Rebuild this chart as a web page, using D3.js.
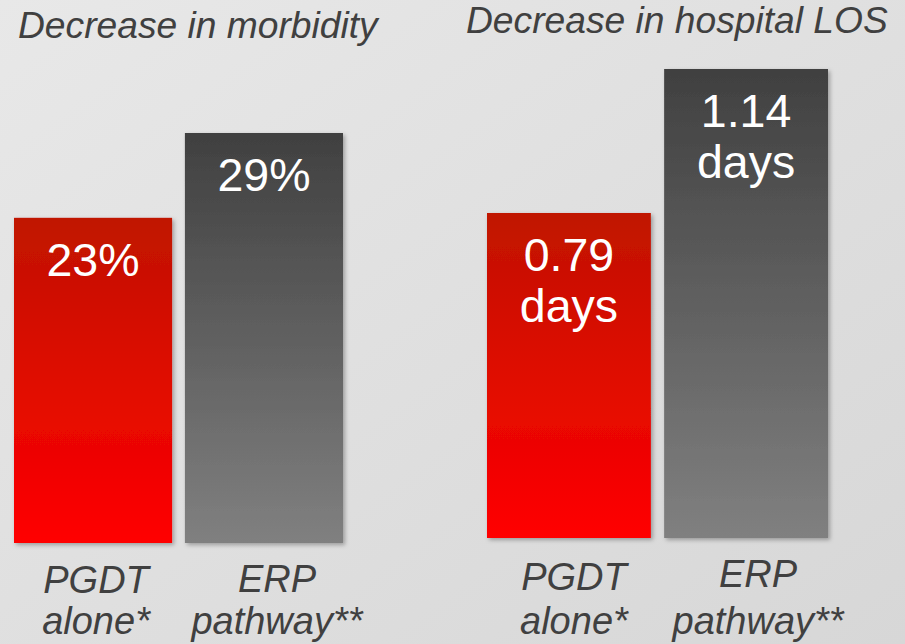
<!DOCTYPE html>
<html>
<head>
<meta charset="utf-8">
<script src="https://cdn.jsdelivr.net/npm/d3@7"></script>
<style>
html,body{margin:0;padding:0;background:#e0e0e0;}
svg{display:block;}
text{font-family:"Liberation Sans",Arial,sans-serif;}
</style>
</head>
<body>
<svg id="chart" width="905" height="644"></svg>
<script>
// ---- data ----
const categories = ["PGDT alone*", "ERP pathway**"];
const categoryLines = [["PGDT", "alone*"], ["ERP", "pathway**"]];
const panelTitles = ["Decrease in morbidity", "Decrease in hospital LOS"];
const morbidityValues = [23, 29];
const morbidityLabels = [["23%"], ["29%"]];
const losValues = [0.79, 1.14];
const losLabels = [["0.79", "days"], ["1.14", "days"]];

const svg = d3.select("#chart");
const W = 905, H = 644;
const defs = svg.append("defs");

// background gradient
const bg = defs.append("linearGradient").attr("id", "bg")
  .attr("x1", "0").attr("y1", "0").attr("x2", "1").attr("y2", "1");
bg.append("stop").attr("offset", "0").attr("stop-color", "#e8e8e8");
bg.append("stop").attr("offset", "1").attr("stop-color", "#d7d7d7");
svg.append("rect").attr("width", W).attr("height", H).attr("fill", "url(#bg)");

// bar gradients
const gRed = defs.append("linearGradient").attr("id", "gRed")
  .attr("x1", "0").attr("y1", "0").attr("x2", "0").attr("y2", "1");
gRed.append("stop").attr("offset", "0").attr("stop-color", "#c01400");
gRed.append("stop").attr("offset", "1").attr("stop-color", "#ff0000");
const gGray = defs.append("linearGradient").attr("id", "gGray")
  .attr("x1", "0").attr("y1", "0").attr("x2", "0").attr("y2", "1");
gGray.append("stop").attr("offset", "0").attr("stop-color", "#404040");
gGray.append("stop").attr("offset", "1").attr("stop-color", "#808080");
const fills = ["url(#gRed)", "url(#gGray)"];

const shadow = defs.append("filter").attr("id", "shadow")
  .attr("x", "-10%").attr("y", "-10%").attr("width", "130%").attr("height", "130%");
shadow.append("feDropShadow").attr("dx", 2).attr("dy", 2)
  .attr("stdDeviation", 2).attr("flood-color", "#000").attr("flood-opacity", 0.3);

const panels = [
  { title: panelTitles[0], values: morbidityValues, labels: morbidityLabels,
    xr: [14, 343], yDomain: [0, 30], yRange: [543, 543 - 30 * (410 / 29)],
    titleX: 18, titleY: 38, catBase: [593, 592], labelShift: [3, 13] },
  { title: panelTitles[1], values: losValues, labels: losLabels,
    xr: [487, 828], yDomain: [0, 1.2], yRange: [538, 538 - 1.2 * (469 / 1.14)],
    titleX: 466, titleY: 33, catBase: [590, 587], labelShift: [5, 12] }
];

panels.forEach(p => {
  const x = d3.scaleBand().domain(categories).range(p.xr).paddingInner(0.075).paddingOuter(0);
  const y = d3.scaleLinear().domain(p.yDomain).range(p.yRange);
  const g = svg.append("g");

  g.append("text").attr("x", p.titleX).attr("y", p.titleY)
    .attr("font-size", 37.2).attr("font-style", "italic").attr("fill", "#404040")
    .text(p.title);

  g.selectAll("rect.bar").data(p.values).join("rect").attr("class", "bar")
    .attr("x", (d, i) => x(categories[i]))
    .attr("y", d => y(d))
    .attr("width", x.bandwidth())
    .attr("height", d => y(0) - y(d))
    .attr("fill", (d, i) => fills[i])
    .attr("filter", "url(#shadow)");

  // value labels
  p.values.forEach((v, i) => {
    const t = g.append("text")
      .attr("x", x(categories[i]) + x.bandwidth() / 2)
      .attr("y", y(v) + 58)
      .attr("text-anchor", "middle").attr("font-size", 46.5).attr("fill", "#fff");
    p.labels[i].forEach((line, j) => {
      t.append("tspan").attr("x", x(categories[i]) + x.bandwidth() / 2)
        .attr("dy", j === 0 ? 0 : 51).text(line);
    });
  });

  // category labels
  categoryLines.forEach((lines, i) => {
    const cx = x(categories[i]) + x.bandwidth() / 2 + p.labelShift[i];
    const t = g.append("text").attr("x", cx).attr("y", p.catBase[i])
      .attr("text-anchor", "middle").attr("font-size", 38)
      .attr("font-style", "italic").attr("fill", "#404040");
    lines.forEach((line, j) => {
      t.append("tspan").attr("x", cx).attr("y", j === 0 ? p.catBase[i] : 634).text(line);
    });
  });
});
</script>
</body>
</html>
